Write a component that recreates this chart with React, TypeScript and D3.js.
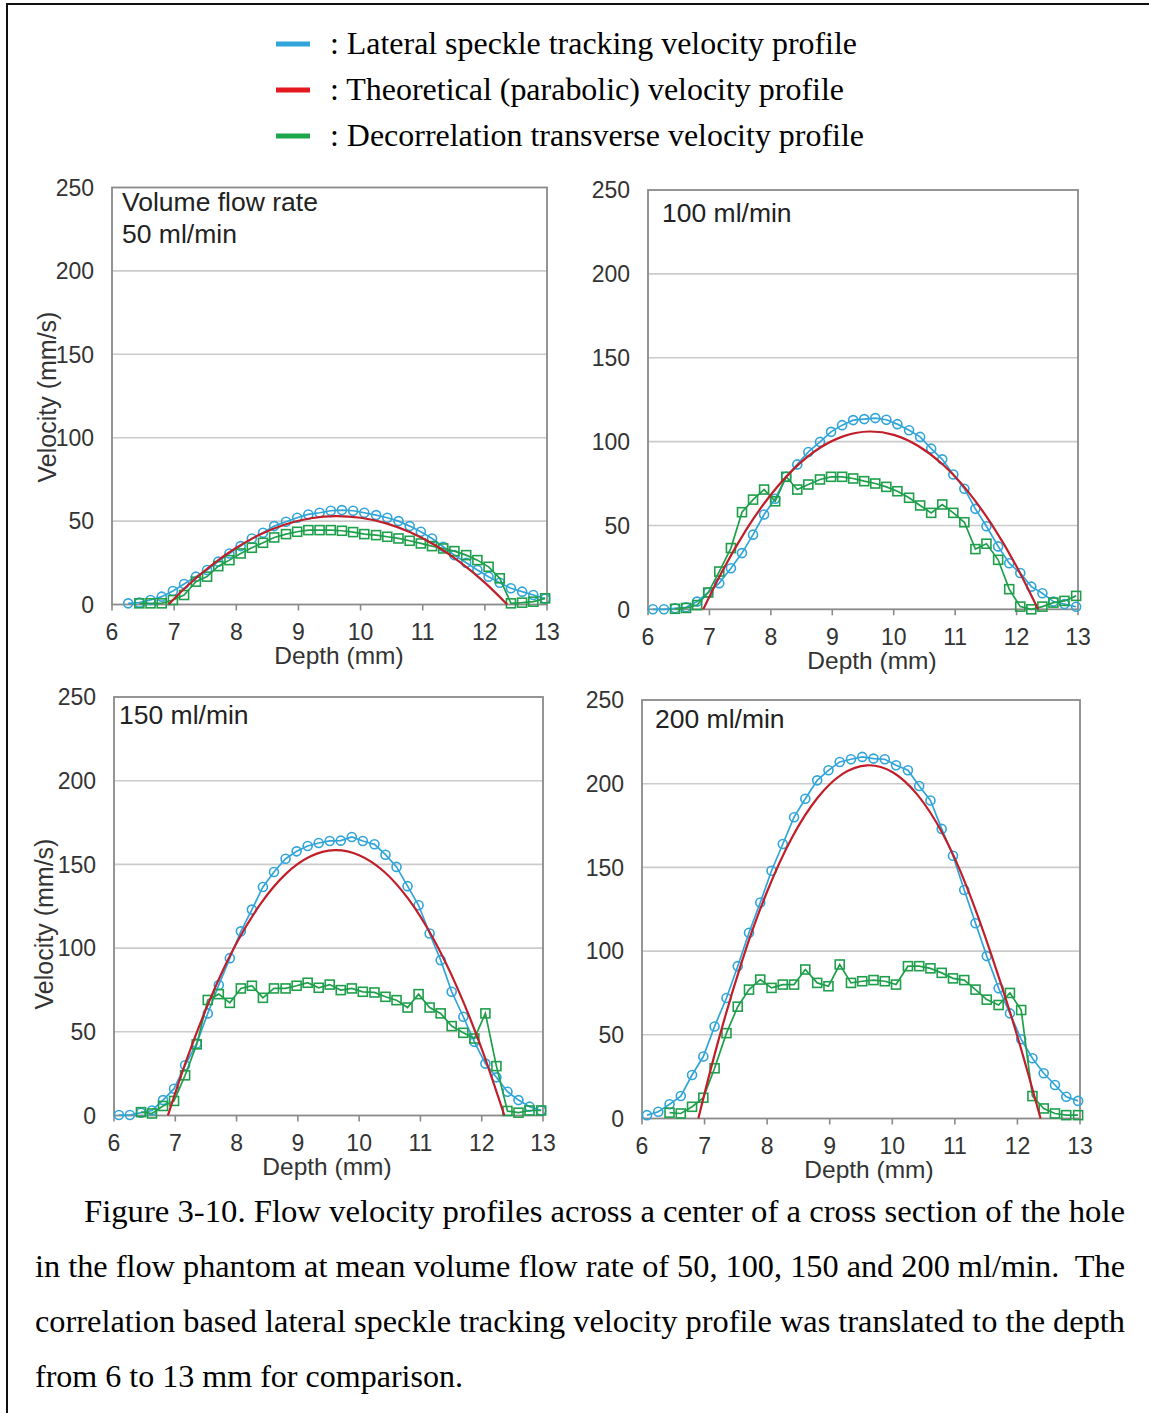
import React from 'react';
import * as d3 from 'd3';

// Depth axis / velocity axis ticks
const DEPTH_TICKS = [6, 7, 8, 9, 10, 11, 12, 13];
const VELOCITY_TICKS = [0, 50, 100, 150, 200, 250];
const GRID_VELOCITIES = [50, 100, 150, 200];

// Lateral sample positions shared by the measured profiles (mm)
const SAMPLE_DEPTHS = [
  6.08, 6.26, 6.44, 6.62, 6.80, 6.98, 7.16, 7.35, 7.53, 7.71, 7.89, 8.07, 8.25,
  8.43, 8.61, 8.80, 8.98, 9.16, 9.34, 9.52, 9.70, 9.88, 10.06, 10.25, 10.43,
  10.61, 10.79, 10.97, 11.15, 11.33, 11.51, 11.70, 11.88, 12.06, 12.24, 12.42,
  12.60, 12.78, 12.97,
];

// Lateral speckle tracking velocity (mm/s)
const SPECKLE_50 = [
  null, 0.7, 1.1, 2.7, 4.7, 8.1, 12.3, 16.7, 20.7, 25.7, 30.6, 35, 39.6, 43, 47,
  49.6, 52, 54, 55, 56.2, 56.6, 56.2, 55, 53.6, 52, 50, 47, 43.6, 39.6, 34.6,
  29.6, 25, 20.7, 16.7, 13, 9.7, 7.7, 5.7, 3.5,
];
const SPECKLE_100 = [
  0, 0, 0.6, 1.2, 4.6, 10, 15.6, 24.5, 33.5, 44.5, 56.5, 65.9, 79, 86.4, 93.8,
  99.8, 105.8, 109.8, 112.8, 113.4, 114, 113, 110.4, 106.8, 102.8, 95.8, 89.4,
  80.4, 71.9, 59.9, 49.5, 37.5, 27.5, 21.6, 13.5, 9.6, 4.6, 3.1, 1.5,
];
const SPECKLE_150 = [
  0.3, 0.3, 1.7, 3, 9.2, 16, 30, 43, 61, 78, 94, 110, 123, 136.5, 145.5, 153.4,
  157.8, 161, 162.8, 164, 164.2, 166.4, 164, 162, 155.8, 148.5, 137, 125.6,
  108.7, 92.8, 73.9, 59, 44, 31, 22.8, 14.2, 9.2, 5.3, 3,
];
const SPECKLE_200 = [
  2, 4, 8.5, 13.4, 26, 37, 55, 72, 91, 111, 129, 148, 164, 180, 191, 202, 208,
  213, 214.6, 216, 215, 214.6, 211, 208, 198.6, 190, 173, 157, 136.5, 116.6, 97,
  77.8, 62.8, 47.3, 36, 27, 20, 13, 10.5,
];

// Decorrelation transverse velocity (mm/s)
const DECORR_50 = [
  null, null, 0.7, 0.7, 0.7, 2.7, 5.7, 13.7, 16.7, 23, 26.6, 30.6, 34, 37, 40.2,
  42.2, 43.6, 44.6, 44.6, 44.6, 44.2, 43.4, 42.2, 41.6, 40.6, 39.6, 38.2, 36.6,
  35, 33.6, 32, 29.6, 26.6, 22.6, 15.7, 0.7, 1.1, 1.7, 3.7,
];
const DECORR_100 = [
  null, null, 0.3, 0.8, 2.5, 10, 22.5, 36.5, 57.9, 65.4, 71.4, 64.4, 79, 71.4,
  74.4, 77.4, 79, 79, 78, 76.4, 75, 73, 70.4, 66.5, 61.9, 57.5, 62.5, 57.5, 51.9,
  35.9, 39.1, 29.5, 12, 1.6, 0, 1.6, 4, 5, 8,
];
const DECORR_150 = [
  null, null, 2, 1.2, 5.7, 8.7, 24, 42.5, 69, 72.5, 67.3, 75.9, 77.5, 70.3, 75.9,
  75.9, 77.5, 79.3, 76.3, 78.2, 74.9, 75.9, 73.9, 73.5, 70.9, 68.9, 64.5, 72.5,
  64.5, 61, 53.4, 49.4, 46, 61, 29.5, 2.7, 1.7, 3, 3,
];
const DECORR_200 = [
  null, null, 3.5, 3, 7, 12.4, 30, 51, 66.8, 77, 83, 78, 80, 80, 89, 81, 79, 92,
  81, 82, 82.7, 82, 80, 91, 91, 89.7, 87, 83.7, 82.7, 77, 71, 67.8, 75, 64.8,
  13.4, 6, 3, 2, 2,
];

// Theoretical (parabolic) profile points: depth (mm) and velocity (mm/s)
const THEORY_DEPTH_50 = [6.91, 7.2, 7.6, 8.0, 8.4, 8.8, 9.2, 9.6, 10.0, 10.4, 10.8, 11.2, 11.6, 12.0, 12.36];
const THEORY_50 = [0, 10.8, 23.5, 34.0, 42.2, 48.1, 51.7, 53, 52.0, 48.8, 43.3, 35.5, 25.4, 13.1, 0];
const THEORY_DEPTH_100 = [6.9, 7.2, 7.6, 8.0, 8.4, 8.8, 9.2, 9.6, 10.0, 10.4, 10.8, 11.2, 11.6, 12.0, 12.35];
const THEORY_100 = [0, 22.1, 47.5, 68.3, 84.6, 96.3, 103.4, 106, 104.0, 97.4, 86.3, 70.6, 50.3, 25.5, 0];
const THEORY_DEPTH_150 = [6.88, 7.2, 7.6, 8.0, 8.4, 8.8, 9.2, 9.6, 10.0, 10.4, 10.8, 11.2, 11.6, 12.0, 12.37];
const THEORY_150 = [0, 34.8, 72.2, 103.0, 126.9, 144.2, 154.7, 158.5, 155.5, 145.9, 129.5, 106.3, 76.4, 39.8, 0];
const THEORY_DEPTH_200 = [6.9, 7.2, 7.6, 8.0, 8.4, 8.8, 9.2, 9.6, 10.0, 10.4, 10.8, 11.2, 11.6, 12.0, 12.37];
const THEORY_200 = [0, 43.7, 94.2, 135.6, 168.0, 191.3, 205.7, 211.0, 207.0, 193.5, 170.5, 137.5, 96.0, 49.0, 0];

const PANEL_TITLES = [
  ['Volume flow rate', '50 ml/min'],
  ['100 ml/min'],
  ['150 ml/min'],
  ['200 ml/min'],
];

const LEGEND_LABELS = [
  ': Lateral speckle tracking velocity profile',
  ': Theoretical (parabolic) velocity profile',
  ': Decorrelation transverse velocity profile',
];

const CAPTION_LINES = [
  'Figure 3-10. Flow velocity profiles across a center of a cross section of the hole',
  'in the flow phantom at mean volume flow rate of 50, 100, 150 and 200 ml/min.  The',
  'correlation based lateral speckle tracking velocity profile was translated to the depth',
  'from 6 to 13 mm for comparison.',
];

const X_TITLE = 'Depth (mm)';
const Y_TITLE = 'Velocity (mm/s)';

const BLUE = '#31a5d9';
const RED = '#c01f2a';
const GREEN = '#1f9f4b';
const SANS = '"Liberation Sans", Arial, sans-serif';
const SERIF = '"Liberation Serif", "Times New Roman", serif';

const PANELS = [
  {
    speckle: SPECKLE_50, decorr: DECORR_50, theoryDepth: THEORY_DEPTH_50, theory: THEORY_50, title: PANEL_TITLES[0],
    box: { left: 112, right: 547, top: 187.5, bottom: 604.5 }, xTitleX: 339, titleX: 122, titleY: 201, yTitle: { x: 47, y: 397 },
  },
  {
    speckle: SPECKLE_100, decorr: DECORR_100, theoryDepth: THEORY_DEPTH_100, theory: THEORY_100, title: PANEL_TITLES[1],
    box: { left: 648, right: 1078, top: 190, bottom: 609.3 }, xTitleX: 872, titleX: 662, titleY: 212, yTitle: null,
  },
  {
    speckle: SPECKLE_150, decorr: DECORR_150, theoryDepth: THEORY_DEPTH_150, theory: THEORY_150, title: PANEL_TITLES[2],
    box: { left: 114, right: 543, top: 697, bottom: 1115.5 }, xTitleX: 327, titleX: 119, titleY: 714, yTitle: { x: 44, y: 924 },
  },
  {
    speckle: SPECKLE_200, decorr: DECORR_200, theoryDepth: THEORY_DEPTH_200, theory: THEORY_200, title: PANEL_TITLES[3],
    box: { left: 642, right: 1080, top: 700, bottom: 1118.5 }, xTitleX: 869, titleX: 655, titleY: 718, yTitle: null,
  },
];

type Pt = { d: number; v: number };

function Panel({ cfg }: { cfg: any }) {
  const { box } = cfg;
  const x = d3.scaleLinear().domain([6, 13]).range([box.left, box.right]);
  const y = d3.scaleLinear().domain([0, 250]).range([box.bottom, box.top]);

  const toPts = (vals: (number | null)[]): Pt[] =>
    SAMPLE_DEPTHS.map((d, i) => ({ d, v: vals[i] as number })).filter((p) => p.v != null);

  const speckle = toPts(cfg.speckle);
  const decorr = toPts(cfg.decorr);
  const theory: Pt[] = cfg.theoryDepth.map((d: number, i: number) => ({ d, v: cfg.theory[i] }));

  const straight = d3.line<Pt>().x((p) => x(p.d)).y((p) => y(p.v));
  const smooth = d3.line<Pt>().x((p) => x(p.d)).y((p) => y(p.v)).curve(d3.curveNatural);

  return (
    <g>
      {GRID_VELOCITIES.map((v) => (
        <line key={v} x1={box.left} x2={box.right} y1={y(v)} y2={y(v)} stroke="#cbcbcb" strokeWidth={1.6} />
      ))}
      <rect x={box.left} y={box.top} width={box.right - box.left} height={box.bottom - box.top}
        fill="none" stroke="#8a8a8a" strokeWidth={1.8} />
      {DEPTH_TICKS.map((t) => (
        <line key={t} x1={x(t)} x2={x(t)} y1={box.bottom} y2={box.bottom + 6} stroke="#8a8a8a" strokeWidth={1.6} />
      ))}
      {VELOCITY_TICKS.map((t) => (
        <text key={t} x={box.left - 18} y={y(t)} dy="0.36em" textAnchor="end" fontFamily={SANS}
          fontSize={23} fill="#333">{t}</text>
      ))}
      {DEPTH_TICKS.map((t) => (
        <text key={t} x={x(t)} y={box.bottom + 27} dy="0.36em" textAnchor="middle" fontFamily={SANS}
          fontSize={23} fill="#333">{t}</text>
      ))}
      <text x={cfg.xTitleX} y={box.bottom + 51} dy="0.36em" textAnchor="middle" fontFamily={SANS}
        fontSize={24.5} fill="#333">{X_TITLE}</text>
      {cfg.yTitle && (
        <text transform={`translate(${cfg.yTitle.x},${cfg.yTitle.y}) rotate(-90)`} dy="0.36em" textAnchor="middle"
          fontFamily={SANS} fontSize={25} fill="#333">{Y_TITLE}</text>
      )}
      {cfg.title.map((s: string, i: number) => (
        <text key={i} x={cfg.titleX} y={cfg.titleY + i * 32} dy="0.36em" fontFamily={SANS} fontSize={26.5}
          fill="#222">{s}</text>
      ))}

      {/* lateral speckle tracking */}
      <path d={straight(speckle) || ''} fill="none" stroke={BLUE} strokeWidth={1.7} />
      {speckle.map((p, i) => (
        <circle key={i} cx={x(p.d)} cy={y(p.v)} r={4.5} fill="none" stroke={BLUE} strokeWidth={1.6} />
      ))}

      {/* decorrelation transverse */}
      <path d={straight(decorr) || ''} fill="none" stroke={GREEN} strokeWidth={1.7} />
      {decorr.map((p, i) => (
        <rect key={i} x={x(p.d) - 4.5} y={y(p.v) - 4.5} width={9} height={9} fill="none" stroke={GREEN}
          strokeWidth={1.6} />
      ))}

      {/* theoretical parabola */}
      <path d={smooth(theory) || ''} fill="none" stroke={RED} strokeWidth={2.2} />
    </g>
  );
}

export default function App() {
  const legendColors = [BLUE, '#e3191f', '#1ea64b'];
  const legendY = [44, 90, 136];
  const legendWidths = [527, 514, 534];
  const captionX = [84, 35, 35, 35];
  const captionWidths = [1041, 1090, 1090, 428];
  const captionY = [1222, 1277, 1332, 1387];

  return (
    <svg width={1149} height={1413} viewBox="0 0 1149 1413"
      style={{ position: 'absolute', left: 0, top: 0, background: '#fff' }}>
      <rect x={0} y={0} width={1149} height={1413} fill="#fff" />
      {/* page frame */}
      <line x1={6} x2={1149} y1={4} y2={4} stroke="#111" strokeWidth={2} />
      <line x1={7} x2={7} y1={4} y2={1413} stroke="#111" strokeWidth={2} />

      {/* legend */}
      {LEGEND_LABELS.map((s, i) => (
        <g key={i}>
          <line x1={276} x2={310} y1={legendY[i]} y2={legendY[i]} stroke={legendColors[i]} strokeWidth={5} />
          <text x={330} y={legendY[i] + 10} fontFamily={SERIF} fontSize={31} fill="#000"
            textLength={legendWidths[i]} lengthAdjust="spacingAndGlyphs">{s}</text>
        </g>
      ))}

      {PANELS.map((cfg, i) => (
        <Panel key={i} cfg={cfg} />
      ))}

      {/* caption */}
      {CAPTION_LINES.map((s, i) => (
        <text key={i} x={captionX[i]} y={captionY[i]} fontFamily={SERIF} fontSize={31} fill="#000"
          style={{ whiteSpace: 'pre' }} textLength={captionWidths[i]} lengthAdjust="spacingAndGlyphs">{s}</text>
      ))}
    </svg>
  );
}
